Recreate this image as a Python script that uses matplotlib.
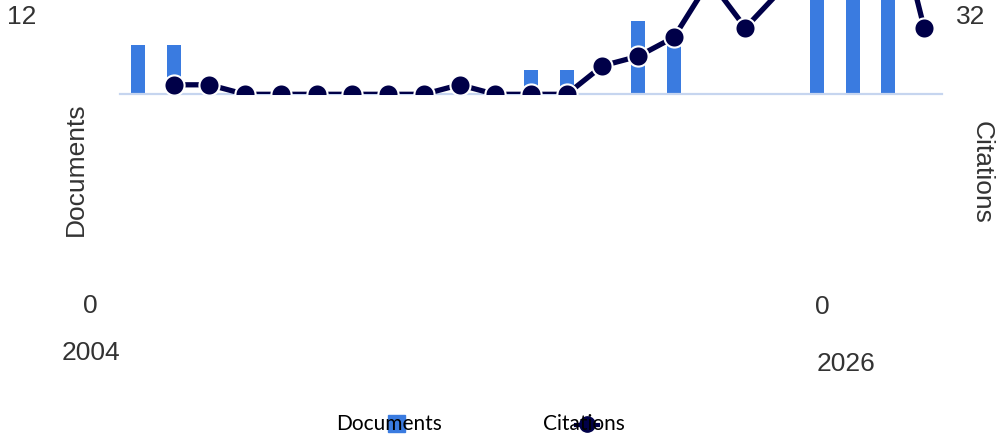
import matplotlib
matplotlib.use("Agg")
import matplotlib.pyplot as plt
from matplotlib.patches import Rectangle
from matplotlib.lines import Line2D
import numpy as np

# data (values that fall outside the visible area are guesses)
years = list(range(2004, 2027))
documents = [2, 2, 0, 0, 0, 0, 0, 0, 0, 0, 0, 1, 1, 0, 3, 2, 0, 0, 0, 5, 6, 5, 0]
# citations start in 2005
cit_years = years[1:]
citations = [1, 1, 0, 0, 0, 0, 0, 0, 1, 0, 0, 0, 3, 4, 6, 12, 7, 11, 16, 20, 22, 7]

bar_color = "#3a7be0"
line_color = "#000048"
text_color = "#333333"

W, H = 998, 441
fig = plt.figure(figsize=(W / 100, H / 100), dpi=100)

def fx(x):
    return x / W

def fy(y):
    return 1 - y / H

# plot area is shifted up, most of it is outside the picture
ax = fig.add_axes([fx(120), fy(94.3), 822 / W, 293 / H])
idx = np.arange(len(years))
ax.bar(idx, documents, width=0.39, color=bar_color, zorder=2)
ax.set_xlim(-0.5, len(years) - 0.5)
ax.set_ylim(0, 12)
for s in ["top", "left", "right"]:
    ax.spines[s].set_visible(False)
ax.spines["bottom"].set_color("#c6d5ef")
ax.spines["bottom"].set_linewidth(1.6)
ax.set_xticks([])
ax.set_yticks([])

ax2 = ax.twinx()
cidx = [years.index(y) for y in cit_years]
ax2.plot(cidx, citations, color=line_color, lw=3.8, marker="o", markersize=14.5,
         markerfacecolor=line_color, markeredgecolor="white", markeredgewidth=1.5,
         zorder=3)
ax2.set_ylim(0, 293 / 9.5)
for s in ["top", "left", "right", "bottom"]:
    ax2.spines[s].set_visible(False)
ax2.set_yticks([])

font = "Liberation Sans"
fs = 19
fig.text(fx(22), fy(17.5), "12", ha="center", va="center", fontsize=fs, color=text_color, family=font)
fig.text(fx(971), fy(17.5), "32", ha="center", va="center", fontsize=fs, color=text_color, family=font)
fig.text(fx(90), fy(306), "0", ha="center", va="center", fontsize=fs, color=text_color, family=font)
fig.text(fx(822.5), fy(307), "0", ha="center", va="center", fontsize=fs, color=text_color, family=font)
fig.text(fx(90.5), fy(353), str(years[0]), ha="center", va="center", fontsize=fs, color=text_color, family=font)
fig.text(fx(845.5), fy(364), str(years[-1]), ha="center", va="center", fontsize=fs, color=text_color, family=font)
fig.text(fx(76), fy(169), "Documents", rotation=90, ha="center", va="center", fontsize=fs,
         color=text_color, family=font)
fig.text(fx(982), fy(172), "Citations", rotation=270, ha="center", va="center", fontsize=fs,
         color=text_color, family=font)

# legend
fig.text(fx(336), fy(424), "Documents", ha="left", va="center", fontsize=15, color="black", family="Lato")
fig.text(fx(543), fy(424), "Citations", ha="left", va="center", fontsize=15, color="black", family="Lato")
fig.add_artist(Rectangle((fx(388), fy(432)), 17 / W, 17 / H, color=bar_color, transform=fig.transFigure))
fig.add_artist(Line2D([fx(576), fx(598)], [fy(425), fy(425)], color=line_color, lw=3,
                      transform=fig.transFigure))
fig.add_artist(Line2D([fx(587)], [fy(424)], color=line_color, marker="o", markersize=11,
                      transform=fig.transFigure))

fig.savefig("out.png", dpi=100)
